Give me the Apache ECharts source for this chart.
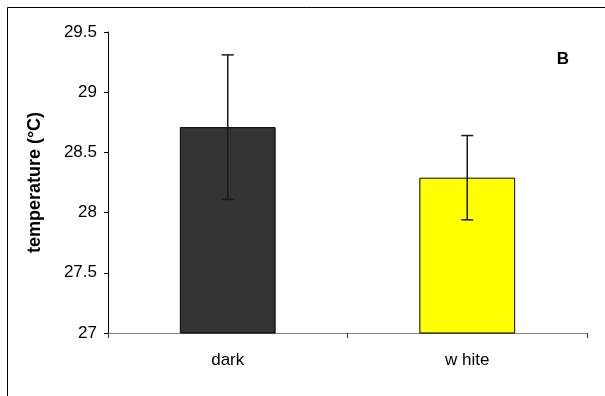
<!DOCTYPE html>
<html>
<head>
<meta charset="utf-8">
<script src="https://cdn.jsdelivr.net/npm/echarts@6/dist/echarts.min.js"></script>
<style>
  html, body { margin: 0; padding: 0; background: #fff; }
  #chart { width: 605px; height: 396px; }
</style>
</head>
<body>
<div id="chart"></div>
<script>
// Mean temperature by colour treatment, with error bars
const categories = ['dark', 'w hite'];
const meanTemp = [28.71, 28.29];
const errLow = [28.11, 27.94];
const errHigh = [29.31, 28.64];
const barColors = ['#333333', '#ffff00'];

const chart = echarts.init(document.getElementById('chart'), null, { renderer: 'canvas' });

const font = '"Liberation Sans", Arial, sans-serif';

chart.setOption({
  animation: false,
  backgroundColor: '#ffffff',
  grid: { left: 108, right: 18, top: 32, bottom: 63 },
  xAxis: {
    type: 'category',
    data: categories,
    boundaryGap: true,
    axisLine: { lineStyle: { color: '#808080', width: 1 } },
    axisTick: { show: true, length: 5, lineStyle: { color: '#333' } },
    axisLabel: { color: '#000', fontFamily: font, fontSize: 17, margin: 19 },
    splitLine: { show: false }
  },
  yAxis: {
    type: 'value',
    min: 27,
    max: 29.5,
    interval: 0.5,
    name: 'temperature (°C)',
    nameLocation: 'middle',
    nameGap: 64,
    nameRotate: 90,
    nameTextStyle: { color: '#000', fontFamily: font, fontSize: 18, fontWeight: 'bold' },
    axisLine: { show: true, lineStyle: { color: '#000', width: 1 } },
    axisTick: { show: true, length: 4, lineStyle: { color: '#000' } },
    axisLabel: { color: '#000', fontFamily: font, fontSize: 17, margin: 11 },
    splitLine: { show: false }
  },
  graphic: [
    {
      type: 'rect',
      shape: { x: 7.5, y: 7.5, width: 700, height: 500 },
      style: { fill: 'none', stroke: '#000', lineWidth: 1 },
      silent: true
    },
    {
      type: 'text',
      x: 563, y: 59,
      style: {
        text: 'B', fill: '#000', font: 'bold 17px ' + font,
        textAlign: 'center', textVerticalAlign: 'middle'
      }
    }
  ],
  series: [
    {
      type: 'bar',
      barWidth: '40%',
      data: meanTemp.map((v, i) => ({
        value: v,
        itemStyle: { color: barColors[i], borderColor: '#000', borderWidth: 1 }
      })),
      z: 2
    },
    {
      type: 'custom',
      z: 3,
      data: categories.map((c, i) => [i, errLow[i], errHigh[i]]),
      renderItem: function (params, api) {
        const x = api.value(0);
        const lo = api.coord([x, api.value(1)]);
        const hi = api.coord([x, api.value(2)]);
        const half = 6;
        const st = { stroke: '#1a1a1a', lineWidth: 1.5 };
        return {
          type: 'group',
          children: [
            { type: 'line', shape: { x1: hi[0], y1: hi[1], x2: lo[0], y2: lo[1] }, style: st },
            { type: 'line', shape: { x1: hi[0] - half, y1: hi[1], x2: hi[0] + half, y2: hi[1] }, style: st },
            { type: 'line', shape: { x1: lo[0] - half, y1: lo[1], x2: lo[0] + half, y2: lo[1] }, style: st }
          ]
        };
      }
    }
  ]
});
</script>
</body>
</html>
